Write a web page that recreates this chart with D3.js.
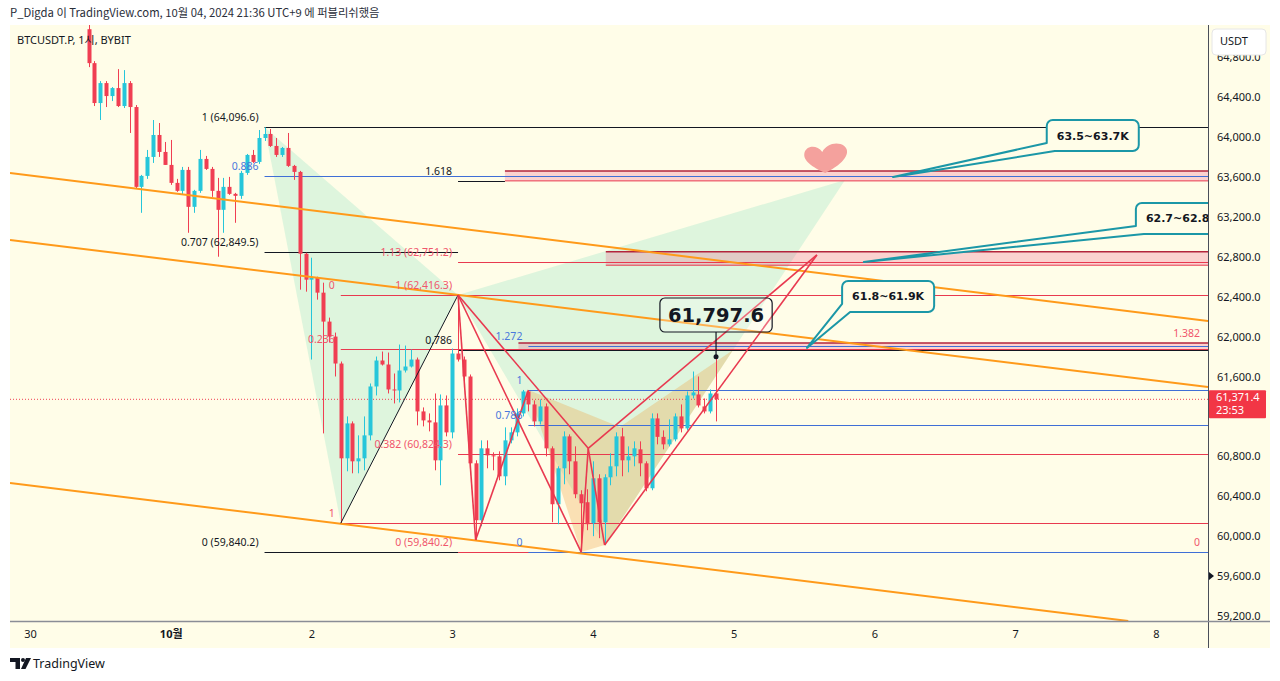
<!DOCTYPE html>
<html><head><meta charset="utf-8">
<script src="https://cdn.jsdelivr.net/npm/d3@7"></script>
<style>
body{margin:0;background:#fff;}
svg{display:block;font-family:"Noto Sans","Open Sans",sans-serif;}
</style></head>
<body><svg id="c" width="1280" height="681"></svg>
<script>
// ---------------- DATA ----------------
const firstHour = 10; // hours after 30 Sep 00:00 (1h candles)
const opens = [65080,64740,64340,64540,64410,64490,64310,64540,64300,63500,
63610,63800,64020,63850,63720,63540,63460,63670,63300,63460,
63780,63680,63460,63270,63500,63430,63410,63640,63820,63750,
63990,64030,63910,63820,63890,63710,63650,62830,62570,62590,
62440,62150,62000,61730,60780,61130,60750,60780,61010,61500,
61760,61720,61470,61460,61660,61700,61770,61250,61160,61140,
60760,61310,61040,61830,61770,61600,60730,60160,60880,60810,
60800,60600,60960,61040,61230,61450,61320,61150,61300,60880,
60320,60680,61000,60750,60420,60340,60130,60580,60140,60590,
60700,61000,60760,60800,60870,60730,60480,61180,60995,60920,
60970,61200,61080,61410,61420,61300,61250,61430];
const highs = [65150,64760,64560,64560,64500,64680,64670,64560,64320,63620,
63870,64170,64140,63950,63970,63580,63700,63700,63470,63870,
63810,63700,63590,63590,63600,63440,63660,63830,63870,64070,
64096.6,64080,63990,63900,64040,63720,63660,62840,62790,62600,
62540,62190,62040,61750,61200,61150,61010,61200,61530,61800,
61850,61840,61630,61920,61910,61870,61790,61290,61230,61430,
61420,61410,61880,62416.3,61800,61620,60760,60960,60960,60840,
60850,61090,61090,61280,61465,61465,61360,61370,61330,60900,
60700,61050,61020,60900,60460,60470,60750,60620,60620,60830,
61040,61085,60900,60950,60950,60750,61230,61230,61060,61170,
61230,61320,61450,61650,61600,61380,61470,61797.6];
const lows = [64700,64310,64170,64300,64360,64300,64290,64040,63480,63240,
63580,63740,63800,63720,63520,63450,63420,63040,63240,63440,
63670,63400,62800,63040,63420,63140,63380,63620,63740,63730,
63960,63900,63800,63800,63700,63570,62470,62450,61770,62370,
61030,61940,61600,60130,60650,60630,60630,60660,60960,61410,
61710,61430,61330,61340,61640,61690,61110,61100,61050,60660,
60510,61000,60980,61750,61530,60700,59960,60100,60680,60660,
60560,60510,60930,61000,61200,61250,61100,61120,60800,60140,
60120,60520,60620,60380,59840.2,60060,60000,59980,59910,60510,
60600,60600,60640,60700,60600,60450,60460,60920,60870,60900,
60950,61040,61060,61380,61290,61230,61230,61150];
const closes = [64740,64340,64540,64410,64490,64310,64540,64300,63500,63610,
63800,64020,63850,63720,63540,63460,63670,63300,63460,63780,
63680,63460,63270,63500,63430,63410,63640,63820,63750,63990,
64030,63910,63820,63890,63710,63650,62830,62570,62590,62440,
62150,62000,61730,60780,61130,60750,60780,61010,61500,61760,
61720,61470,61460,61660,61700,61770,61250,61160,61140,60760,
61310,61040,61830,61770,61600,60730,60160,60880,60810,60800,
60600,60960,61040,61230,61450,61320,61150,61300,60880,60320,
60680,61000,60750,60420,60330,60120,60580,60140,60590,60700,
61000,60760,60800,60880,60730,60480,61180,60995,60920,60970,
61200,61080,61410,61440,61310,61250,61430,61371.4];

// 61,200 is hidden behind the last-price tag in the reference
const priceTicks = [59200,59600,60000,60400,60800,61600,62000,62400,62800,63200,63600,64000,64400,64800];
const dayTicks = [0,24,48,72,96,120,144,168,192];
const dayLabels = ["30","10월","2","3","4","5","6","7","8"];
const lastPrice = 61371.4;
const countdown = "23:53";

// Fibonacci / level lines
const levelPrice = [64096.6,63611,62849.5,59840.2, 62416.3,61877,60130, 62751.2,62416.3,60824.3,59840.2, 61907,61465,61117,59840.2, 63560,61866];
const levelFrom  = [40,40,40,40, 53,53,53, 73,73,73,73, 85,85,85,85, 73,73];
const levelTo    = [201,201,73,73, 201,201,201, 201,201,201,201, 201,201,201,201, 81,201];
const levelText  = ["1 (64,096.6)","0.886","0.707 (62,849.5)","0 (59,840.2)",
                    "0","0.236","1",
                    "1.13 (62,751.2)","1 (62,416.3)","0.382 (60,824.3)","0 (59,840.2)",
                    "1.272","1","0.786","0",
                    "1.618","0.786"];
const levelGroup = ["xabcd","xabcdMid","xabcd","xabcd","fibA","fibA","fibA","fibB","fibB","fibB","fibB","fibC","fibC","fibC","fibC","xabcd","xabcd"];
const rightLabelText = ["1.382","0"];
const rightLabelPrice = [61936,59840.2];

// target zones
const zoneTop = [63660,62850,61936];
const zoneBottom = [63560,62715,61866];
const zoneFrom = [81,98.2,83.3];

// trend channel (hour, price)
const trendFromH = [-3.41,-3.41,-3.41];
const trendFromP = [63639,62968,60533];
const trendToH = [200.9,200.9,187.3];
const trendToP = [62156,61495,59150];

// XABCD pattern points (hour, price)
const xabcdH = [40,53,73,98,139];
const xabcdP = [64096.6,60130,62416.3,59911,63569];
// red harmonic drawing: points X,A,B,C,E,F,D
const redH = [73,76,85,94,95.2,98,134.2];
const redP = [62416.3,59962,61465,59840.2,60880,59911,62818];
const redSegs = [[0,1],[1,2],[0,3],[0,4],[3,4],[4,5],[4,6],[5,6]];
// shaded (tan) region
const tanH = [85,100.6,119.9,98,94];
const tanP = [61465,61094,61865,59911,59840.2];

// callouts
const calloutText = ["63.5~63.7K","62.7~62.8K","61.8~61.9K"];
const calloutBoxH = [173.4,188.6,138.5];
const calloutBoxP = [64170,63339,62557];
const calloutPtH = [147.2,142.2,132.5];
const calloutPtP = [63599,62747,61886];

// price note
const noteText = "61,797.6";
const notePtH = 117, notePtP = 61797.6, noteBoxP = 62216;
const heartH = 135.8, heartP = 63770;

// ---------------- DRAW ----------------
const svg = d3.select("#c");
const L=10, R=1208, T=25, B=621;
const x = d3.scaleLinear().domain([-3.41,200.9]).range([L,R]);
const y = d3.scaleLinear().domain([59150,65122]).range([B,T]);
const UP="#26c6da", DN="#f03e52", RED="#e8394f", BLUE="#3f6fd6", BLK="#131722", TEAL="#1b97a7", ORANGE="#ff9a1a";
const groupColor = {xabcd:BLK, xabcdMid:BLUE, fibA:RED, fibB:RED, fibC:BLUE};
const labelColor = {xabcd:BLK, xabcdMid:"#4a78dc", fibA:"#f0566c", fibB:"#f0566c", fibC:"#4a78dc"};

svg.append("rect").attr("x",L).attr("y",T).attr("width",1260).attr("height",623).attr("fill","#fffde8");

svg.append("text").attr("x",10).attr("y",17).attr("font-size",11.3).attr("fill","#2a2e39")
  .attr("font-family","'Noto Sans CJK KR','Noto Sans',sans-serif")
  .text("P_Digda 이 TradingView.com, 10월 04, 2024 21:36 UTC+9 에 퍼블리쉬했음");

const defs = svg.append("defs");
defs.append("clipPath").attr("id","pc").append("rect").attr("x",L).attr("y",T).attr("width",R-L).attr("height",B-T);
const g = svg.append("g").attr("clip-path","url(#pc)");

// fills
const line = d3.line().x(d=>x(d[0])).y(d=>y(d[1]));
const xp = xabcdH.map((h,i)=>[h,xabcdP[i]]);
g.append("path").attr("d", line([xp[0],xp[1],xp[2]])+"Z").attr("fill","rgba(0,190,150,0.13)");
g.append("path").attr("d", line([xp[2],xp[3],xp[4]])+"Z").attr("fill","rgba(0,190,150,0.13)");
g.append("path").attr("d", line(tanH.map((h,i)=>[h,tanP[i]]))+"Z").attr("fill","rgba(240,160,60,0.30)");

// zones
zoneTop.forEach((tp,i)=>{
  const y0=y(tp), y1=y(zoneBottom[i]);
  g.append("rect").attr("x",x(zoneFrom[i])).attr("y",y0).attr("width",R-x(zoneFrom[i])).attr("height",y1-y0)
   .attr("fill","rgba(235,60,120,0.22)");
  g.append("line").attr("x1",x(zoneFrom[i])).attr("x2",R).attr("y1",y0).attr("y2",y0).attr("stroke","#b3243c").attr("stroke-width",1.5);
  g.append("line").attr("x1",x(zoneFrom[i])).attr("x2",R).attr("y1",y1).attr("y2",y1).attr("stroke",RED).attr("stroke-width",1);
});

// level lines
levelPrice.forEach((p,i)=>{
  const yy=Math.round(y(p))+0.5;
  g.append("line").attr("x1",x(levelFrom[i])).attr("x2",x(levelTo[i])).attr("y1",yy).attr("y2",yy)
   .attr("stroke",groupColor[levelGroup[i]]).attr("stroke-width",1);
});
// current price dotted
g.append("line").attr("x1",L).attr("x2",R).attr("y1",y(lastPrice)).attr("y2",y(lastPrice))
 .attr("stroke",DN).attr("stroke-dasharray","1,2").attr("stroke-width",1);

// candles
const candles = opens.map((o,i)=>({t:firstHour+i,o,h:highs[i],l:lows[i],c:closes[i]}));
const cg = g.append("g");
candles.forEach(d=>{
  const col = d.c>=d.o?UP:DN, cx=Math.round(x(d.t));
  cg.append("line").attr("x1",cx+0.5).attr("x2",cx+0.5).attr("y1",y(d.h)).attr("y2",y(d.l)).attr("stroke",col).attr("stroke-width",1);
  const yt=y(Math.max(d.o,d.c)), yb=y(Math.min(d.o,d.c));
  cg.append("rect").attr("x",cx-1.5).attr("width",4).attr("y",yt).attr("height",Math.max(1,yb-yt)).attr("fill",col);
});

// trend channel
trendFromH.forEach((h,i)=>{
  g.append("line").attr("x1",x(h)).attr("y1",y(trendFromP[i])).attr("x2",x(trendToH[i])).attr("y2",y(trendToP[i]))
   .attr("stroke",ORANGE).attr("stroke-width",2);
});

// XABCD AB leg
g.append("path").attr("d",line([xp[1],xp[2]])).attr("stroke",BLK).attr("stroke-width",1).attr("fill","none");
// red harmonic lines
redSegs.forEach(s=>{
  g.append("line").attr("x1",x(redH[s[0]])).attr("y1",y(redP[s[0]])).attr("x2",x(redH[s[1]])).attr("y2",y(redP[s[1]]))
   .attr("stroke",RED).attr("stroke-width",1.6);
});

// level labels
levelPrice.forEach((p,i)=>{
  g.append("text").attr("x",x(levelFrom[i])-6).attr("y",y(p)-6).attr("text-anchor","end")
   .attr("font-size",10.5).attr("fill",labelColor[levelGroup[i]]).text(levelText[i]);
});
rightLabelText.forEach((t,i)=>{
  g.append("text").attr("x",R-8).attr("y",y(rightLabelPrice[i])-6).attr("text-anchor","end")
   .attr("font-size",10.5).attr("fill","#f0566c").text(t);
});

// heart
g.append("path").attr("transform",`translate(${x(heartH)},${y(heartP)})`)
 .attr("d","M -1,13 C -10,9 -23,2 -22,-6 C -21,-14 -10,-16 -4,-8 C 0,-16 11,-19 18,-14 C 25,-8 19,3 -1,13 Z")
 .attr("fill","#f4a19d");

// callouts
calloutText.forEach((t,i)=>{
  const bx=x(calloutBoxH[i]), by=y(calloutBoxP[i]);
  const tx = g.append("text").attr("font-family","'DejaVu Sans',sans-serif").attr("font-weight","bold")
     .attr("font-size",11).attr("fill",BLK).text(t);
  const tw = tx.node().getComputedTextLength();
  const w = tw+20, h=31, r=6, Lx=bx, Ty=by, Rx=bx+w, By=by+h;
  const ax=x(calloutPtH[i]), ay=y(calloutPtP[i]);
  const d=`M ${Lx},${Ty+r} A ${r} ${r} 0 0 1 ${Lx+r},${Ty} H ${Rx-r} A ${r} ${r} 0 0 1 ${Rx},${Ty+r} V ${By-r} A ${r} ${r} 0 0 1 ${Rx-r},${By} H ${Lx+8} L ${ax},${ay} L ${Lx},${By-8} Z`;
  g.insert("path","text:last-child").attr("d",d).attr("fill","#fffde8").attr("stroke",TEAL).attr("stroke-width",2).attr("stroke-linejoin","round");
  tx.attr("x",Lx+10).attr("y",Ty+h/2+4);
  tx.raise();
});

// price note
{
  const ax=x(notePtH), ay=y(notePtP), cy=y(noteBoxP);
  const nt = g.append("text").attr("font-family","'DejaVu Sans',sans-serif").attr("font-weight","bold")
     .attr("font-size",19.5).attr("fill",BLK).attr("text-anchor","middle").text(noteText);
  const w = nt.node().getComputedTextLength()+16, h=34;
  g.insert("rect","text:last-child").attr("x",ax-w/2).attr("y",cy-h/2).attr("width",w).attr("height",h).attr("rx",5)
   .attr("fill","rgba(255,255,255,0.25)").attr("stroke",BLK).attr("stroke-width",1.2);
  nt.attr("x",ax).attr("y",cy+7);
  g.append("line").attr("x1",ax).attr("x2",ax).attr("y1",cy+h/2).attr("y2",ay).attr("stroke",BLK).attr("stroke-width",1.2);
  g.append("circle").attr("cx",ax).attr("cy",ay).attr("r",2.5).attr("fill",BLK);
}

svg.append("text").attr("x",17).attr("y",44).attr("font-size",11).attr("fill",BLK)
  .attr("font-family","'Noto Sans','Noto Sans CJK KR',sans-serif").text("BTCUSDT.P, 1시, BYBIT");

// separators
svg.append("line").attr("x1",R+0.5).attr("x2",R+0.5).attr("y1",T).attr("y2",648).attr("stroke","#4a4e59").attr("stroke-width",1);
svg.append("line").attr("x1",L).attr("x2",1270).attr("y1",B+0.5).attr("y2",B+0.5).attr("stroke","#8a8d96").attr("stroke-width",1.5);

// axes
const ya = svg.append("g").attr("transform",`translate(${R},0)`)
  .call(d3.axisRight(y).tickValues(priceTicks).tickFormat(d3.format(",.1f")).tickSize(0).tickPadding(9));
ya.select(".domain").remove();
ya.selectAll("text").attr("font-size",11).attr("fill",BLK).attr("font-family","'Noto Sans',sans-serif");

const xa = svg.append("g").attr("transform",`translate(0,${B})`)
  .call(d3.axisBottom(x).tickValues(dayTicks).tickFormat((d,i)=>dayLabels[i]).tickSize(0).tickPadding(9));
xa.select(".domain").remove();
xa.selectAll("text").attr("font-size",11).attr("fill",BLK).attr("font-family","'Noto Sans','Noto Sans CJK KR',sans-serif")
  .attr("font-weight",(d,i)=>dayLabels[i]==="10월"?"bold":"normal");

// USDT box (partly covers the top tick label, as in the reference)
svg.append("rect").attr("x",1212).attr("y",29).attr("width",54).attr("height",26).attr("rx",4)
  .attr("fill","#fff").attr("stroke","#e6e6e6");
svg.append("text").attr("x",1220).attr("y",45).attr("font-size",11).attr("fill",BLK).text("USDT");

// last price tag
{
  const yy=y(lastPrice);
  svg.append("rect").attr("x",R+1).attr("y",yy-9).attr("width",57).attr("height",28).attr("fill","#f23645").attr("rx",1);
  svg.append("text").attr("x",R+8).attr("y",yy+2).attr("font-size",11).attr("fill","#fff").text(d3.format(",.1f")(lastPrice));
  svg.append("text").attr("x",R+8).attr("y",yy+15).attr("font-size",11).attr("fill","#fff").text(countdown);
}
// low marker triangle at 59,600
{
  const yy=y(59600);
  svg.append("path").attr("d",`M ${R+1},${yy-4} L ${R+6},${yy} L ${R+1},${yy+4} Z`).attr("fill",BLK);
}

// footer logo
svg.append("path").attr("d","M10,658 H20 V669 H15.5 V662 H10 Z").attr("fill",BLK);
svg.append("circle").attr("cx",23).attr("cy",660).attr("r",2).attr("fill",BLK);
svg.append("path").attr("d","M26,658 H31 L25.5,669 H21 Z").attr("fill",BLK);
svg.append("text").attr("x",33).attr("y",668).attr("font-size",12.5).attr("fill",BLK).text("TradingView");
</script>
</body></html>
